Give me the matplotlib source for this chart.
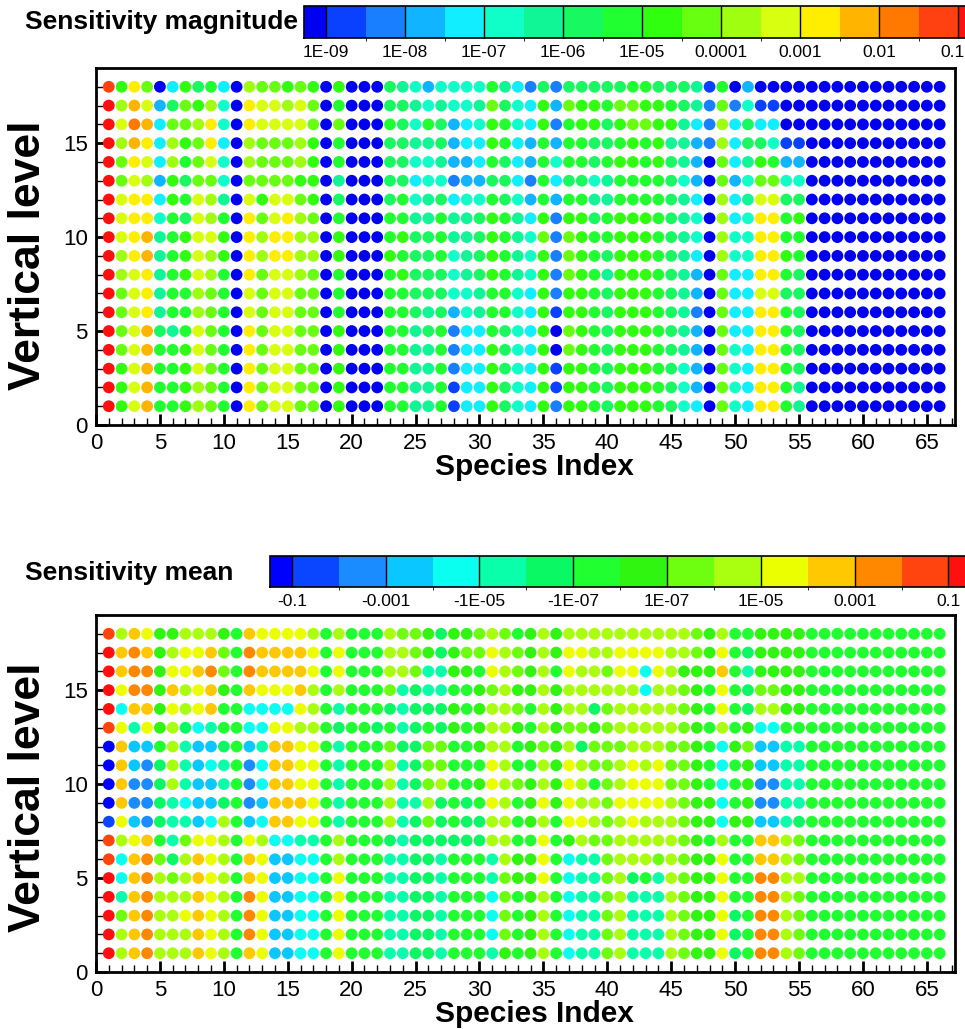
import numpy as np
import matplotlib
matplotlib.use("Agg")
import matplotlib.pyplot as plt
from matplotlib.colors import ListedColormap, BoundaryNorm
from matplotlib.ticker import MultipleLocator
from matplotlib.transforms import ScaledTranslation
import matplotlib.cm as cm

plt.rcParams['font.family'] = ['Liberation Sans', 'DejaVu Sans']

# ---------------- data ----------------
species = np.arange(1, 67)
levels = np.arange(18, 0, -1)          # row order of the tables below (top row = level 18)

# Sensitivity magnitude: colour-bin index per dot (0..17 -> '0'-'9','a'-'h'), species 1..66
mag_rows = [
    "g9da0497840baa9a 9 0900076535555864 2727777788777618 030000 00000000000",
    "hbec37a9b50dccbc a 0800077656556a75 493a998aa998762a 251100 00000000000",
    "hcfe4aabd50dcccc a 0a00087587345985 49289979aa99642b 474400 00000000000",
    "hbed4b9ad40baaab 9 0800077667344984 383887789896632b 477511 00000000000",
    "hadc4b8ac50baaab 9 0800077556334874 385887899897630a 469833 00000000000",
    "hacb397aa50aaaa9 9 0600077455233774 284775688887530a 35aa55 00000000000",
    "hcdd498cb60c9cca 9 0700078567455875 383886688887640b 46cc77 00000000000",
    "hcdd587cb80dacdb a 0800088668667986 492997899987650b 45dd89 00000000000",
    "hcde689cc90dbddb b 0900089778667986 5a2a98899987650b 55dd88 00000000000",
    "hbde689cb90dbddb b 0900098778567986 592a98799987640b 55dd98 00000000000",
    "hbcd689cb80daccb a 0800089777567986 592a98699987630a 44dd87 00000000000",
    "hacd688ba80cacca a 0800088777556885 492998799987630a 44cc77 00000000000",
    "hacd688ba80cacca a 0800088767356885 491998799987620a 44dd87 00000000000",
    "hace768ca80dacca a 0900088678244875 490a98799987630a 44dd87 00000000000",
    "hace889ca80dacca a 0900088668244975 490a98799987630a 54dd87 00000000000",
    "h9ce889ca80dacca a 0900088668244975 491998799987530a 54dd87 00000000000",
    "h9ce889ba80dacca a 0900088668144975 491998799987530a 54dd86 00000000000",
    "h9ce889ba80dacca a 0900088668144975 492998799987540a 54dd86 00000000000",
]

# Sensitivity mean: colour-bin index per dot (0..15 -> '0'-'9','a'-'f'), species 1..66
mean_rows = [
    "eacb88aaa87cbbbb a7a777a9986889a97 8a8aaaaaaaaaa98a 778888 77777777777",
    "fcdc8abbc97dcccc b7b777aa986899ba9 8a8bbaabbbbaa98b 768888 77777777777",
    "fcdd8bbcd97dcccc b7b777aa955887ba9 8a7baa9bb4ba888c 758888 77777777777",
    "fbdd8cabc87cbbbc a7a777956557789a8 8a8aaaaaa4aa987b 769988 77777777777",
    "f4cc8babc774444b a7577765666878aa9 7a8aa69aaaaa987b 76aa88 77777777777",
    "eb5b8a6457744bba a7677675676878aa8 7a89989aaaaa987a 784477 77777777777",
    "0c337a5336735ccb b7577796699778aa7 898a6999aaa99874 893355 77777777777",
    "0c326a5345724ccb b75777a5699777ba7 7a8ba99abab99874 783355 77777777777",
    "0c226a5335724ccb b75777a569a778ba9 8a8ba79abbb99874 782255 77777777777",
    "0c22654336723ccc b75777a55a6767ba7 8b8baa9bbbba9884 782255 77777777777",
    "1b3265534a734ccb b75777a5696766aa7 8a7bba9abaaa9884 883356 77777777777",
    "eabc759bba7ba445 57a77765666666aa7 7b78a99aaaaa987a 77cca9 77777777777",
    "e4cd96acba7cb334 47a777556657775a8 8b74559aaa9a988b 77cca9 77777777777",
    "f4cda9acba7cb334 47b77755665777598 8b74559a675a988b 77ddaa 77777777777",
    "f5cdaaacba7db334 47b77755665777497 8a74559a555a988b 77dda9 77777777777",
    "f9cdaabcba7db334 47b77755665777497 8a74559a555a988b 67dda9 77777777777",
    "facdaaacba7db334 47b77755665777497 8a74559a555a988b 67dda9 77777777777",
    "facdaaacba7cb334 47b77755665777587 8a74559a555a988b 67dda9 77777777777",
]

mag_bounds = [1e-10] + [10.0 ** e for e in np.arange(-9.0, -0.9, 0.5)] + [1.0]
mean_bounds = [-1, -0.1, -0.01, -1e-3, -1e-4, -1e-5, -1e-6, -1e-7, 0,
               1e-7, 1e-6, 1e-5, 1e-4, 1e-3, 1e-2, 0.1, 1]

mag_ticks = [1e-9, 1e-8, 1e-7, 1e-6, 1e-5, 1e-4, 1e-3, 1e-2, 0.1]
mag_ticklabels = ["1E-09", "1E-08", "1E-07", "1E-06", "1E-05", "0.0001", "0.001", "0.01", "0.1"]
mean_ticks = [-0.1, -1e-3, -1e-5, -1e-7, 1e-7, 1e-5, 1e-3, 0.1]
mean_ticklabels = ["-0.1", "-0.001", "-1E-05", "-1E-07", "1E-07", "1E-05", "0.001", "0.1"]

mag_colors = ['#0000f0', '#0a40ff', '#1a7fff', '#10b4ff', '#10eeff', '#10ffc8',
              '#10f596', '#18f860', '#20ff30', '#30ff10', '#68ff10', '#a0ff10',
              '#d8ff10', '#ffee00', '#ffb400', '#ff7800', '#ff4010', '#ff1010']
mean_colors = ['#0000ff', '#0a46ff', '#1a8cff', '#0ac8ff', '#0afff0', '#0affaa',
               '#0af864', '#20ff30', '#30f510', '#6eff10', '#aaff10', '#ecff00',
               '#ffc800', '#ff8800', '#ff4410', '#ff1010']


def decode(rows, bounds):
    mids = [(bounds[k] + bounds[k + 1]) / 2.0 for k in range(len(bounds) - 1)]
    out = []
    for r in rows:
        r = r.replace(" ", "")
        assert len(r) == 66, (r, len(r))
        out.append([mids[int(ch, 36)] for ch in r])
    return np.array(out)


mag_vals = decode(mag_rows, mag_bounds)
mean_vals = decode(mean_rows, mean_bounds)

# ---------------- figure ----------------
W, H = 965, 1029
fig = plt.figure(figsize=(W / 100, H / 100), dpi=100)


def fx(px):
    return px / W


def fy(py):
    return 1 - py / H


def make_panel(top_px, bot_px, vals, colors, bounds):
    ax = fig.add_axes([fx(96), fy(bot_px), fx(955) - fx(96), (bot_px - top_px) / H])
    cmap = ListedColormap(colors)
    norm = BoundaryNorm(bounds, cmap.N)
    X, Y = np.meshgrid(species, levels)
    ax.scatter(X.ravel(), Y.ravel(), c=vals.ravel(), cmap=cmap, norm=norm,
               s=72, linewidths=0, zorder=2)
    ax.set_xlim(0, 67.2)
    ax.set_ylim(0, 19)
    ax.xaxis.set_major_locator(MultipleLocator(5))
    ax.xaxis.set_minor_locator(MultipleLocator(1))
    ax.yaxis.set_major_locator(MultipleLocator(5))
    ax.yaxis.set_minor_locator(MultipleLocator(1))
    ax.tick_params(which='both', direction='in', top=False, right=False,
                   labelsize=16, colors='black')
    ax.tick_params(which='major', length=8, width=2, pad=6)
    ax.tick_params(which='minor', length=5, width=1)
    for sp in ax.spines.values():
        sp.set_linewidth(2)
    return cmap, norm


def make_cbar(left_px, top_px, bot_px, cmap, norm, ticks, labels, lo, hi, last_shift_px):
    cax = fig.add_axes([fx(left_px), fy(bot_px), fx(975) - fx(left_px), (bot_px - top_px) / H])
    sm = cm.ScalarMappable(norm=norm, cmap=cmap)
    cb = fig.colorbar(sm, cax=cax, orientation='horizontal', spacing='uniform', ticks=ticks)
    cb.set_ticklabels(labels)
    cb.outline.set_linewidth(1.2)
    cax.set_xlim(lo, hi)
    hpt = (bot_px - top_px) * 0.72
    cax.tick_params(axis='x', direction='in', length=hpt, width=1, color='black',
                    labelsize=12.5, pad=5)
    if last_shift_px:
        last = cax.xaxis.get_major_ticks()[-1].label1
        last.set_transform(last.get_transform() +
                           ScaledTranslation(-last_shift_px / 100, 0, fig.dpi_scale_trans))
    return cb


# top panel
cmap1, norm1 = make_panel(68, 425, mag_vals, mag_colors, mag_bounds)
make_cbar(304, 6, 38, cmap1, norm1, mag_ticks, mag_ticklabels, 4.96e-10, 0.48, 6)
fig.text(fx(25), fy(22), "Sensitivity magnitude", fontsize=19, fontweight='bold',
         ha='left', va='center')
fig.text(fx(534), fy(467), "Species Index", fontsize=21.5, fontweight='bold',
         ha='center', va='center')
fig.text(fx(29), fy(255), "Vertical level", fontsize=32, fontweight='bold',
         rotation=90, ha='center', va='center')

# bottom panel
cmap2, norm2 = make_panel(615, 972, mean_vals, mean_colors, mean_bounds)
make_cbar(270, 556, 587, cmap2, norm2, mean_ticks, mean_ticklabels, -0.52, 0.61, 0)
fig.text(fx(25), fy(573), "Sensitivity mean", fontsize=19, fontweight='bold',
         ha='left', va='center')
fig.text(fx(534), fy(1014), "Species Index", fontsize=21.5, fontweight='bold',
         ha='center', va='center')
fig.text(fx(29), fy(797), "Vertical level", fontsize=32, fontweight='bold',
         rotation=90, ha='center', va='center')

fig.savefig("out.png", dpi=100)
